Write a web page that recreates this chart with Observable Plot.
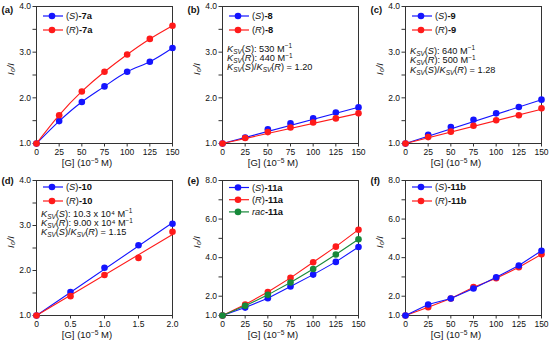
<!DOCTYPE html>
<html><head><meta charset="utf-8">
<script src="https://cdn.jsdelivr.net/npm/d3@7"></script>
<script src="https://cdn.jsdelivr.net/npm/@observablehq/plot@0.6"></script>
<style>
body{margin:0;background:#fff;}
#wrap{position:relative;width:550px;height:342px;overflow:hidden;background:#fff;}
.panel{position:absolute;}
.panel svg{overflow:visible;}
</style></head><body><div id="wrap"></div>
<script>
// ---- data ----
const conc = [0, 25, 50, 75, 100, 125, 150];
const concD = [0, 0.5, 1.0, 1.5, 2.0];
const s7a = [1.00, 1.49, 1.91, 2.25, 2.57, 2.79, 3.09];
const r7a = [1.00, 1.62, 2.14, 2.57, 2.95, 3.29, 3.58];
const s8 = [1.00, 1.13, 1.31, 1.44, 1.55, 1.68, 1.79];
const r8 = [1.00, 1.12, 1.25, 1.35, 1.46, 1.55, 1.66];
const s9 = [1.00, 1.19, 1.36, 1.52, 1.66, 1.80, 1.96];
const r9 = [1.00, 1.14, 1.26, 1.39, 1.51, 1.62, 1.77];
const s10 = [1.00, 1.52, 2.06, 2.56, 3.04];
const r10 = [1.00, 1.43, 1.90, 2.28, 2.86];
const s11a = [1.00, 1.41, 1.90, 2.50, 3.12, 3.78, 4.55];
const r11a = [1.00, 1.57, 2.22, 2.95, 3.76, 4.57, 5.45];
const rac11a = [1.00, 1.50, 2.07, 2.71, 3.41, 4.16, 4.95];
const s11b = [1.00, 1.57, 1.88, 2.40, 2.98, 3.59, 4.36];
const r11b = [1.00, 1.43, 1.88, 2.47, 2.93, 3.50, 4.17];
// linear Stern-Volmer fit lines: [x, y] end points
const fitS8 = [[0, 1.00], [150, 1.795]];
const fitR8 = [[0, 1.00], [150, 1.66]];
const fitS9 = [[0, 1.00], [150, 1.96]];
const fitR9 = [[0, 1.00], [150, 1.75]];
const fitS10 = [[0, 1.00], [2.0, 3.06]];
const fitR10 = [[0, 1.00], [2.0, 2.80]];
// axis ticks
const xTicks = [0, 25, 50, 75, 100, 125, 150];
const xTicksD = [0, 0.5, 1.0, 1.5, 2.0];
const yTicksLow = [1, 2, 3, 4];
const yMinorLow = [1.5, 2.5, 3.5];
const yTicksHigh = [1, 2, 4, 6, 8];
const yMinorHigh = [3, 5, 7];
const panelLabels = ["(a)", "(b)", "(c)", "(d)", "(e)", "(f)"];
const xLabelSegs = [{t: "[G] (10"}, {t: "\u22125", sup: true}, {t: " M)"}];
const yLabel = "I\u2080/I";

const BLUE = "#1414ff", RED = "#ff1a1a", GREEN = "#17893a";
const FONT = "'Liberation Sans', Arial, Helvetica, sans-serif";

function rows(xs, ys) { return xs.map((x, i) => ({x, y: ys[i]})); }

const cmpd = (stereo, name, italicPrefix) => italicPrefix
  ? [{t: stereo, i: true}, {t: name, b: true}]
  : [{t: "("}, {t: stereo, i: true}, {t: ")"}, {t: name, b: true}];
const ksvLine = (st, rest) => [{t: "K", i: true}, {t: "SV", sub: true, i: true}, {t: "("}, {t: st, i: true}, {t: "): " + rest[0]}, {t: "\u22121", sup: true}];
const ratioLine = (val) => [{t: "K", i: true}, {t: "SV", sub: true, i: true}, {t: "("}, {t: "S", i: true}, {t: ")/"},
  {t: "K", i: true}, {t: "SV", sub: true, i: true}, {t: "("}, {t: "R", i: true}, {t: ") = " + val}];

const panels = [
  {left: 0, top: 0, width: 183, height: 171, mr: 11, x: [0, 150], xt: xTicks, xf: d => d, y: [1, 4], yt: yTicksLow, ym: yMinorLow,
   series: [{d: rows(conc, s7a), c: BLUE, curve: "natural"}, {d: rows(conc, r7a), c: RED, curve: "natural"}],
   legend: [cmpd("S", "-7a"), cmpd("R", "-7a")], legY: 16, legDy: 14, labY: 6},
  {left: 186, top: 0, width: 183, height: 171, mr: 11, x: [0, 150], xt: xTicks, xf: d => d, y: [1, 4], yt: yTicksLow, ym: yMinorLow,
   series: [{d: rows(conc, s8), c: BLUE, fit: fitS8}, {d: rows(conc, r8), c: RED, fit: fitR8}],
   legend: [cmpd("S", "-8"), cmpd("R", "-8")], legY: 16, legDy: 14, labY: 6,
   ksv: [ksvLine("S", ["530 M"]), ksvLine("R", ["440 M"]), ratioLine("1.20")], ksvY: 48.5, ksvDy: 9.3},
  {left: 369, top: 0, width: 181, height: 171, mr: 9, x: [0, 150], xt: xTicks, xf: d => d, y: [1, 4], yt: yTicksLow, ym: yMinorLow,
   series: [{d: rows(conc, s9), c: BLUE, fit: fitS9}, {d: rows(conc, r9), c: RED, fit: fitR9}],
   legend: [cmpd("S", "-9"), cmpd("R", "-9")], legY: 16, legDy: 14, labY: 6,
   ksv: [ksvLine("S", ["640 M"]), ksvLine("R", ["500 M"]), ratioLine("1.28")], ksvY: 50.5, ksvDy: 9.6},
  {left: 0, top: 174, width: 183, height: 169, mr: 11, x: [0, 2], xt: xTicksD, xf: d => d === 0 ? "0" : d.toFixed(1), y: [1, 4], yt: yTicksLow, ym: yMinorLow,
   series: [{d: rows(concD, s10), c: BLUE, fit: fitS10}, {d: rows(concD, r10), c: RED, fit: fitR10}],
   legend: [cmpd("S", "-10"), cmpd("R", "-10")], legY: 13, legDy: 14, labY: 3,
   ksv: [ksvLine("S", ["10.3 x 10\u2074 M"]), ksvLine("R", ["9.00 x 10\u2074 M"]), ratioLine("1.15")], ksvY: 39.5, ksvDy: 9.3},
  {left: 186, top: 174, width: 183, height: 169, mr: 11, x: [0, 150], xt: xTicks, xf: d => d, y: [1, 8], yt: yTicksHigh, ym: yMinorHigh,
   series: [{d: rows(conc, s11a), c: BLUE}, {d: rows(conc, r11a), c: RED}, {d: rows(conc, rac11a), c: GREEN}],
   legend: [cmpd("S", "-11a"), cmpd("R", "-11a"), cmpd("rac", "-11a", true)], legY: 13.5, legDy: 12.2, labY: 3},
  {left: 369, top: 174, width: 181, height: 169, mr: 9, x: [0, 150], xt: xTicks, xf: d => d, y: [1, 8], yt: yTicksHigh, ym: yMinorHigh,
   series: [{d: rows(conc, r11b), c: RED}, {d: rows(conc, s11b), c: BLUE}],
   legend: [cmpd("S", "-11b"), cmpd("R", "-11b")], legColors: [BLUE, RED], legY: 13, legDy: 14, labY: 3}
];

function richText(g, x, y, segs, size, anchor) {
  const t = g.append("text").attr("x", x).attr("y", y).attr("dy", "0.35em")
    .attr("text-anchor", anchor || "start")
    .attr("font-size", size).attr("fill", "#111").attr("font-family", FONT);
  let prev = 0;
  for (const s of segs) {
    const shift = s.sub ? size * 0.22 : s.sup ? -size * 0.36 : 0;
    const ts = t.append("tspan").text(s.t);
    if (shift !== prev) ts.attr("dy", shift - prev);
    prev = shift;
    if (s.i) ts.attr("font-style", "italic");
    if (s.b) ts.attr("font-weight", "bold");
    if (s.sub || s.sup) ts.attr("font-size", size * 0.7);
  }
}

const wrap = document.getElementById("wrap");
panels.forEach((p, k) => {
  const ML = 36, MT = 6, MB = 28;
  const marks = [
    Plot.frame({stroke: "#333", strokeWidth: 1}),
    Plot.axisX({ticks: p.xt, tickFormat: p.xf, tickSize: 3.5, tickPadding: 2, label: null, stroke: "#333"}),
    Plot.axisY({ticks: p.yt, tickFormat: d => d.toFixed(1), tickSize: 3.5, tickPadding: 2, label: null, stroke: "#333"}),
    Plot.axisY({ticks: p.ym, tickFormat: () => "", tickSize: 3.5, label: null, stroke: "#333"}),
    Plot.text([yLabel], {frameAnchor: "left", dx: -26, rotate: -90, fontSize: 9.5, fontStyle: "italic", fill: "#111"}),
    Plot.text([panelLabels[k]], {frameAnchor: "top-left", dx: -35, dy: p.labY - 6, textAnchor: "start", fontWeight: "bold", fontSize: 9.5, fill: "#111"})
  ];
  for (const s of p.series) {
    if (s.fit) marks.push(Plot.line(s.fit, {stroke: s.c, strokeWidth: 1.1}));
    else marks.push(Plot.line(s.d, {x: "x", y: "y", stroke: s.c, strokeWidth: 1.1, curve: s.curve || "linear"}));
    marks.push(Plot.dot(s.d, {x: "x", y: "y", r: 3.3, fill: s.c}));
  }
  const svg = Plot.plot({
    width: p.width, height: p.height,
    marginLeft: ML, marginRight: p.mr, marginTop: MT, marginBottom: MB,
    style: {fontFamily: FONT, fontSize: "8.5px", color: "#111", background: "transparent", overflow: "visible"},
    x: {domain: p.x},
    y: {domain: p.y},
    marks
  });
  const g = d3.select(svg).append("g");
  const frameW = p.width - ML - p.mr;
  const frameB = p.height - MB;
  richText(g, ML + frameW / 2 - 17, frameB + 20, xLabelSegs, 9.5, "middle");
  const cols = p.legColors || [BLUE, RED, GREEN];
  p.legend.forEach((segs, i) => {
    const y = p.legY + i * p.legDy;
    g.append("line").attr("x1", ML + 7).attr("x2", ML + 27).attr("y1", y).attr("y2", y)
      .attr("stroke", cols[i]).attr("stroke-width", 1.2);
    g.append("circle").attr("cx", ML + 16).attr("cy", y).attr("r", 3.3).attr("fill", cols[i]);
    richText(g, ML + 30, y, segs, 9.3);
  });
  if (p.ksv) p.ksv.forEach((segs, i) => richText(g, ML + 5, p.ksvY + i * p.ksvDy, segs, 9.2));
  const div = document.createElement("div");
  div.className = "panel";
  div.style.left = p.left + "px";
  div.style.top = p.top + "px";
  div.appendChild(svg);
  wrap.appendChild(div);
});
</script></body></html>
